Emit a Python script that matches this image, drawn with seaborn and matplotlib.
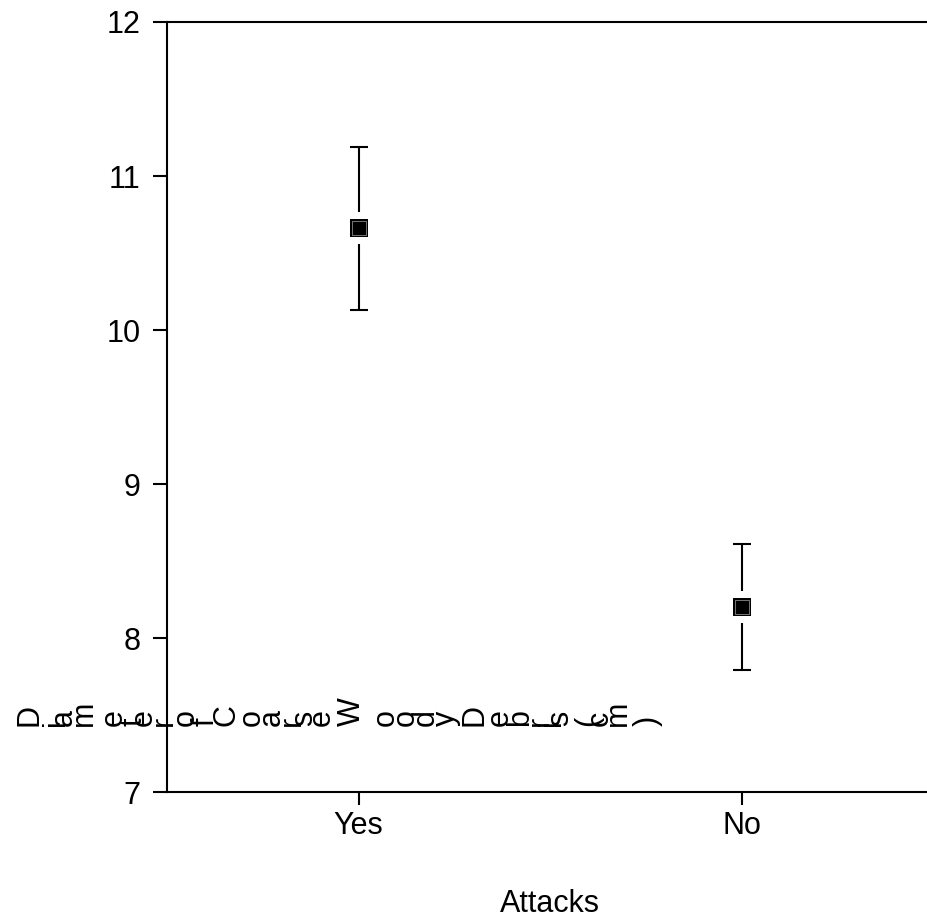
import numpy as np
import pandas as pd
import matplotlib
matplotlib.use("Agg")
import matplotlib.pyplot as plt
import seaborn as sns
from matplotlib.transforms import IdentityTransform
from matplotlib import font_manager, ft2font
from matplotlib.font_manager import FontProperties

# ---- data ----
categories = ["Yes", "No"]
means = [10.66, 8.20]
errors = [0.53, 0.41]
yticks = [7, 8, 9, 10, 11, 12]
xlabel = "Attacks"
ylabel = "Diameter of Coarse Woody Debris (cm)"

df = pd.DataFrame({"attack": categories, "mean": means, "err": errors})

sns.set_theme(style="ticks")
plt.rcParams["font.family"] = ["Liberation Sans", "DejaVu Sans"]
FS = 22

W, H = 927, 922
fig = plt.figure(figsize=(W / 100, H / 100), dpi=100)
fig.patch.set_facecolor("white")
ax = fig.add_axes([167 / W, (H - 792) / H, (933 - 167) / W, 770 / H])
ax.set_facecolor("white")

# error bars
ax.errorbar(df["attack"], df["mean"], yerr=df["err"], fmt="none",
            ecolor="black", elinewidth=1.5, capsize=6.5, capthick=1.5, zorder=1)
# white halo to leave gap around the marker
sns.scatterplot(data=df, x="attack", y="mean", marker="s", s=500,
                color="white", linewidth=0, zorder=2, ax=ax, legend=False)
# black square marker
sns.scatterplot(data=df, x="attack", y="mean", marker="s", s=169,
                color="black", linewidth=0, zorder=3, ax=ax, legend=False)
# inner lighter outline
sns.scatterplot(data=df, x="attack", y="mean", marker="s", s=100,
                color="black", edgecolor="#777777", linewidth=0.7,
                zorder=4, ax=ax, legend=False)

ax.set_xlim(-0.5, len(categories) - 0.5)
ax.set_ylim(yticks[0], yticks[-1])
ax.set_yticks(yticks)
ax.set_yticklabels([str(t) for t in yticks])
ax.set_xticks(range(len(categories)))
ax.set_xticklabels(categories)

for sp in ax.spines.values():
    sp.set_visible(True)
    sp.set_color("black")
    sp.set_linewidth(1.5)

ax.tick_params(axis="y", direction="out", length=10, width=1.5, pad=9,
               labelsize=FS, colors="black")
ax.tick_params(axis="x", direction="out", length=9, width=1.5, pad=5,
               labelsize=FS, colors="black")
ax.grid(False)

ax.set_xlabel(xlabel, fontsize=FS, color="black")
ax.xaxis.set_label_coords(0.5, -(889 - 792) / 770)
ax.set_ylabel("")

# y label: horizontally laid-out string with each glyph rotated (as in reference)
fpath = font_manager.findfont(FontProperties(family="Liberation Sans"))
ftf = ft2font.FT2Font(fpath)
ftf.set_size(FS, 100)
spread = 1.18
x = 15.0
ybase = H - 726
for ch in ylabel:
    adv = ftf.load_char(ord(ch)).linearHoriAdvance / 65536
    if ch != " ":
        fig.text(x, ybase, ch, rotation=90, ha="left", va="bottom",
                 fontsize=FS, color="black", transform=IdentityTransform())
    x += adv * spread

fig.savefig("out.png", dpi=100, facecolor="white")
